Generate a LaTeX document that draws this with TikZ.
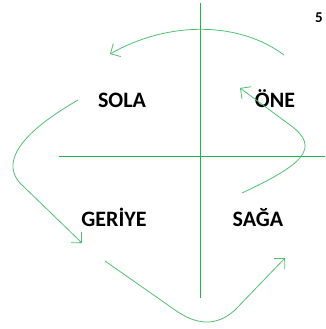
\documentclass[tikz,border=0pt]{standalone}
\usepackage{fontspec}
\setmainfont{Carlito}
\usepackage{tikz}
\usetikzlibrary{arrows.meta}
\definecolor{paintgreen}{RGB}{34,177,76}

\begin{document}
\begin{tikzpicture}[x=1pt,y=-1pt,
    axis/.style={paintgreen,line width=1pt},
    turn/.style={paintgreen!80,line width=0.8pt,-{Straight Barb[length=7.5pt,width=15pt]}},
    word/.style={font=\bfseries\fontsize{22}{26}\selectfont,anchor=base}]
            \useasboundingbox (0,0) rectangle (325,329);
            % axes
            \draw[axis] (200,3)--(200,298);
            \draw[axis] (59,156)--(325,156);

            % words
            \node[word] (sola) at (122,107) {SOLA};
            \node[word] (one) at (275,107) {ÖNE};
            \node[word] (geriye) at (114,226) {GERİYE};
            \node[word] (saga) at (258,226) {SAĞA};
            \node[font=\bfseries\fontsize{15}{17}\selectfont,anchor=base] (num) at (319,23) {5};

            % arrow ends
            \coordinate (a1) at (284,55);
            \coordinate (a2) at (110,54);
            \coordinate (b1) at (78,100);
            \coordinate (b2) at (82,243);
            \coordinate (c1) at (105,261);
            \coordinate (c2) at (285,258);
            \coordinate (d1) at (242,193);
            \coordinate (d2) at (240,88);

            % arrows
            \draw[turn] (a1) .. controls (240,22) and (170,20) .. (a2);
            \draw[turn] (b1) .. controls (0,145) and (8,172) .. (22,185) -- (b2);
            \draw[turn] (c1) -- (175,310) .. controls (195,324) and (215,328) .. (235,310) -- (c2);
            \draw[turn] (d1) .. controls (302,165) and (322,148) .. (290,125) -- (d2);
        \end{tikzpicture}
\end{document}
